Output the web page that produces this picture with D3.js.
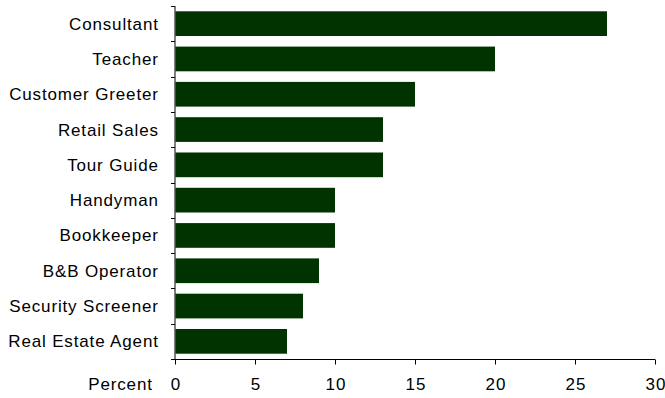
<!DOCTYPE html>
<html><head><meta charset="utf-8">
<script src="https://d3js.org/d3.v7.min.js"></script>
<style>body{margin:0;background:#fff}svg{display:block}text{font-family:"Liberation Sans",Arial,sans-serif;fill:#000;letter-spacing:0.85px}</style>
</head><body>
<script>
const categories = ["Consultant","Teacher","Customer Greeter","Retail Sales","Tour Guide","Handyman","Bookkeeper","B&B Operator","Security Screener","Real Estate Agent"];
const values = [27,20,15,13,13,10,10,9,8,7];
const xTicks = [0,5,10,15,20,25,30];
const xLabel = "Percent";

const W=665,H=398, mLeft=175, mRight=655, mTop=6, mBottom=359;
const svg=d3.select("body").append("svg").attr("width",W).attr("height",H);
const x=d3.scaleLinear().domain([0,30]).range([mLeft,mRight]);
const y=d3.scaleBand().domain(categories).range([mTop,mBottom]).paddingInner(0.3).paddingOuter(0.15);

svg.selectAll("rect.bar").data(categories).enter().append("rect")
 .attr("x",x(0)+0.5).attr("y",d=>y(d)).attr("height",y.bandwidth())
 .attr("width",(d,i)=>x(values[i])-x(0)-0.5).attr("fill","#003300");

// y axis line and boundary ticks
const g=svg.append("g");
g.append("line").attr("x1",mLeft).attr("x2",mLeft).attr("y1",mTop).attr("y2",mBottom).attr("stroke","#000");
const step=(mBottom-mTop)/categories.length;
d3.range(categories.length+1).forEach(i=>{
  const yy=Math.round(mTop+i*step)+0.5;
  g.append("line").attr("x1",mLeft-4).attr("x2",mLeft).attr("y1",yy).attr("y2",yy).attr("stroke","#000");
});
g.selectAll("text.cat").data(categories).enter().append("text")
 .attr("x",158.8).attr("y",d=>y(d)+y.bandwidth()/2).attr("dy","0.35em")
 .attr("text-anchor","end").attr("font-size","17px").text(d=>d);

// x axis
const xa=svg.append("g").attr("transform",`translate(0,${mBottom+0.5})`)
 .call(d3.axisBottom(x).tickValues(xTicks).tickSize(5).tickPadding(13).tickFormat(d3.format("d")));
xa.select(".domain").attr("d",`M${mLeft},0H${mRight}`);
xa.selectAll("text").attr("font-size","17px").attr("font-family","Liberation Sans, Arial, sans-serif").attr("dx","0.4px");
svg.append("text").attr("x",152.8).attr("y",390).attr("text-anchor","end").attr("font-size","17px").text(xLabel);
</script>
</body></html>
